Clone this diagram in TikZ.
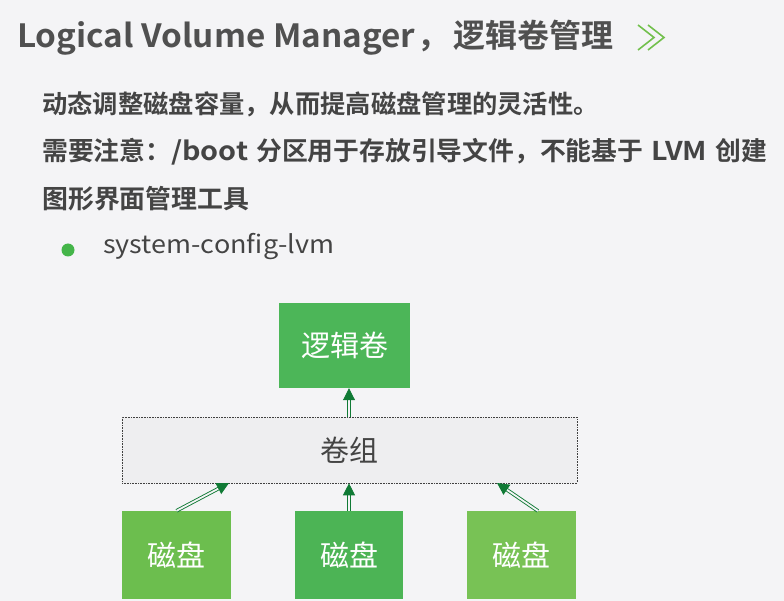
\documentclass[tikz,border=0pt]{standalone}
\usepackage{fontspec}
\setmainfont{Noto Sans CJK SC}
\newfontfamily\cjkb{Noto Sans CJK SC Bold}
\usetikzlibrary{arrows.meta,calc}
\definecolor{bg}{HTML}{F4F4F6}
\definecolor{txt}{HTML}{444444}
\definecolor{ttl}{HTML}{505050}
\definecolor{gtop}{HTML}{4CB658}
\definecolor{gmid}{HTML}{4CB455}
\definecolor{gleft}{HTML}{6CBE4E}
\definecolor{gright}{HTML}{78C255}
\definecolor{arr}{HTML}{107A35}
\definecolor{bullet}{HTML}{44B549}
\definecolor{chevc}{HTML}{72C04C}
\tikzset{
  gbox/.style={inner sep=0pt, text=white, font=\fontsize{29}{32}\selectfont},
  dblarrow/.style={draw=arr, line width=0.9pt, double=bg, double distance=1.8pt,
    -{Triangle[length=12pt,width=12pt,fill=arr]}},
  bodyline/.style={anchor=west, inner sep=0pt, text=txt, font=\cjkb\fontsize{25.5}{28}\selectfont},
  chevline/.style={draw=chevc, line width=1.6pt, line join=miter}
}
\begin{document}
\begin{tikzpicture}[x=1pt,y=-1pt]
\path[fill=bg] (0,0) rectangle (784,601);
\useasboundingbox (0,0) rectangle (784,601);
% title
\node[anchor=west, inner sep=0pt, text=ttl, font=\cjkb\fontsize{32}{34}\selectfont] (title) at (17,38)
  {\resizebox{398pt}{\height}{Logical Volume Manager}\hspace{2pt}，\hspace{4pt}逻辑卷管理};
\coordinate (c1) at (638,25);
\coordinate (c2) at (648,25);
\draw[chevline] (c1) -- ++(16,12.5) -- ++(-16,12.5);
\draw[chevline] (c2) -- ++(16,12.5) -- ++(-16,12.5);
% body
\node[bodyline, font=\cjkb\fontsize{25.3}{28}\selectfont] (l1) at (42,104) {动态调整磁盘容量，从而提高磁盘管理的灵活性。};
\node[bodyline, font=\cjkb\fontsize{25.8}{28}\selectfont] (l2) at (42,152)
  {需要注意：\resizebox{77pt}{\height}{/boot}\hspace{8pt}分区用于存放引导文件，不能基于\hspace{8pt}\resizebox{56pt}{\height}{LVM}\hspace{8pt}创建};
\node[bodyline, font=\cjkb\fontsize{25.9}{28}\selectfont] (l3) at (42,199) {图形界面管理工具};
\node[circle, fill=bullet, inner sep=0pt, minimum size=13pt] (dot) at (68,250) {};
\node[anchor=west, inner sep=0pt, text=txt, font=\fontsize{25}{28}\selectfont] (bt) at (103,247) {\resizebox{231pt}{\height}{system-config-lvm}};
% diagram
\node[gbox, fill=gtop, minimum width=131pt, minimum height=85pt] (lv) at (344.5,345.5) {逻辑卷};
\node[draw=black!75, densely dotted, line width=0.6pt, fill=bg!60!white!96!black, minimum width=455pt, minimum height=66pt, inner sep=0pt, text=txt, font=\fontsize{29}{32}\selectfont] (vg) at (349.5,450) {卷组};
\node[gbox, fill=gleft, minimum width=109pt, minimum height=88pt] (d1) at (176.5,555) {磁盘};
\node[gbox, fill=gmid, minimum width=108pt, minimum height=88pt] (d2) at (349,555) {磁盘};
\node[gbox, fill=gright, minimum width=109pt, minimum height=88pt] (d3) at (521.5,555) {磁盘};
\coordinate (e1) at (229,483);
\coordinate (s3) at (538,511);
\coordinate (e3) at (497,483);
\draw[dblarrow] (d2.north) -- (vg.south -| d2.north);
\draw[dblarrow] (vg.north -| d2.north) -- (lv.south -| d2.north);
\draw[dblarrow] (d1.north) -- (e1);
\draw[dblarrow] (s3) -- (e3);
\end{tikzpicture}
\end{document}
